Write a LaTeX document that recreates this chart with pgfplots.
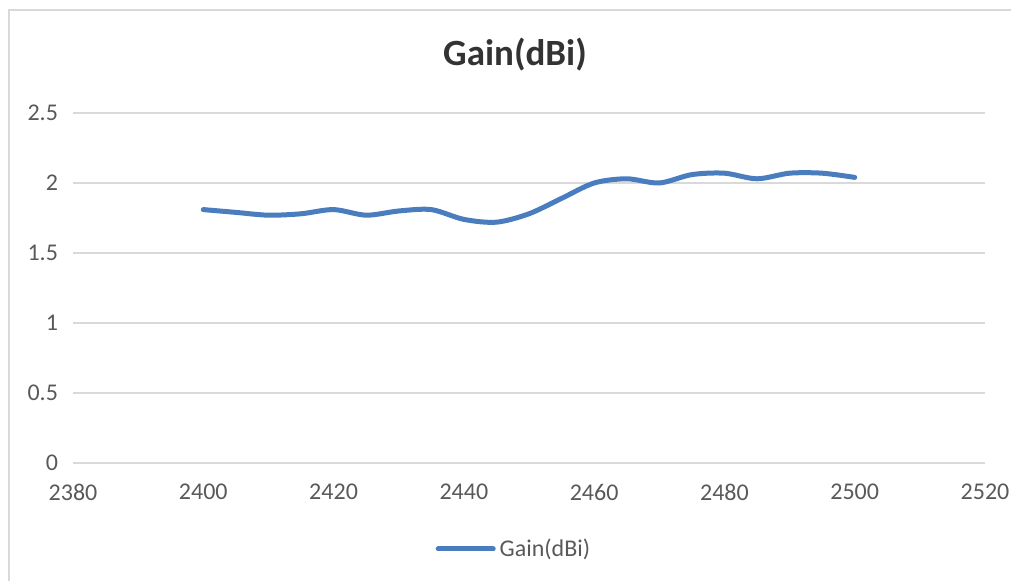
\documentclass[border=0pt]{standalone}
\usepackage{fontspec}
\setmainfont{Carlito}
\usepackage{pgfplots}
\pgfplotsset{compat=1.18}
\definecolor{lineblue}{HTML}{4A7DBE}
\definecolor{gridgray}{HTML}{D9D9D9}
\definecolor{txtgray}{HTML}{595959}
\begin{document}
\begin{tikzpicture}
\begin{axis}[
  scale only axis, width=456pt, height=175pt,
  xmin=2380, xmax=2520, ymin=0, ymax=2.5,
  xtick={2380,2400,...,2520}, ytick={0,0.5,1,1.5,2,2.5},
  axis line style={draw=none}, major tick length=0pt,
  ymajorgrids, grid style={gridgray, line width=0.7pt},
  /pgf/number format/1000 sep={},
  /pgf/number format/assume math mode=true,
  tick label style={font=\fontsize{12}{14}\selectfont, text=txtgray},
  yticklabel style={xshift=-4pt},
  xticklabel style={yshift=-7pt},
  clip=false,
  title={Gain(dBi)},
  title style={at={(0.4846,1.134)}, anchor=center, font=\bfseries\fontsize{18.5}{20}\selectfont, text=black!80},
  legend style={at={(0.4846,-0.2457)}, anchor=center, draw=none, fill=none, font=\fontsize{12}{14}\selectfont, text=txtgray},
  legend image code/.code={\draw[#1] (0pt,0pt) -- (27.5pt,0pt);},
]
\addplot[lineblue, line width=2.5pt, line cap=round, smooth, tension=0.5] coordinates {
(2400,1.81) (2405,1.79) (2410,1.77) (2415,1.78) (2420,1.81) (2425,1.77)
(2430,1.80) (2435,1.81) (2440,1.74) (2445,1.72) (2450,1.78) (2455,1.89)
(2460,2.00) (2465,2.03) (2470,2.00) (2475,2.06) (2480,2.07) (2485,2.03)
(2490,2.07) (2495,2.07) (2500,2.04)
};
\addlegendentry{Gain(dBi)}
\end{axis}
\draw[gridgray, line width=1pt] (-32pt,-70pt) -- (-32pt,226.25pt) -- (480pt,226.25pt);
\pgfresetboundingbox
\path[use as bounding box] (-36.5pt,-59pt) rectangle (469pt,231.5pt);
\end{tikzpicture}
\end{document}
